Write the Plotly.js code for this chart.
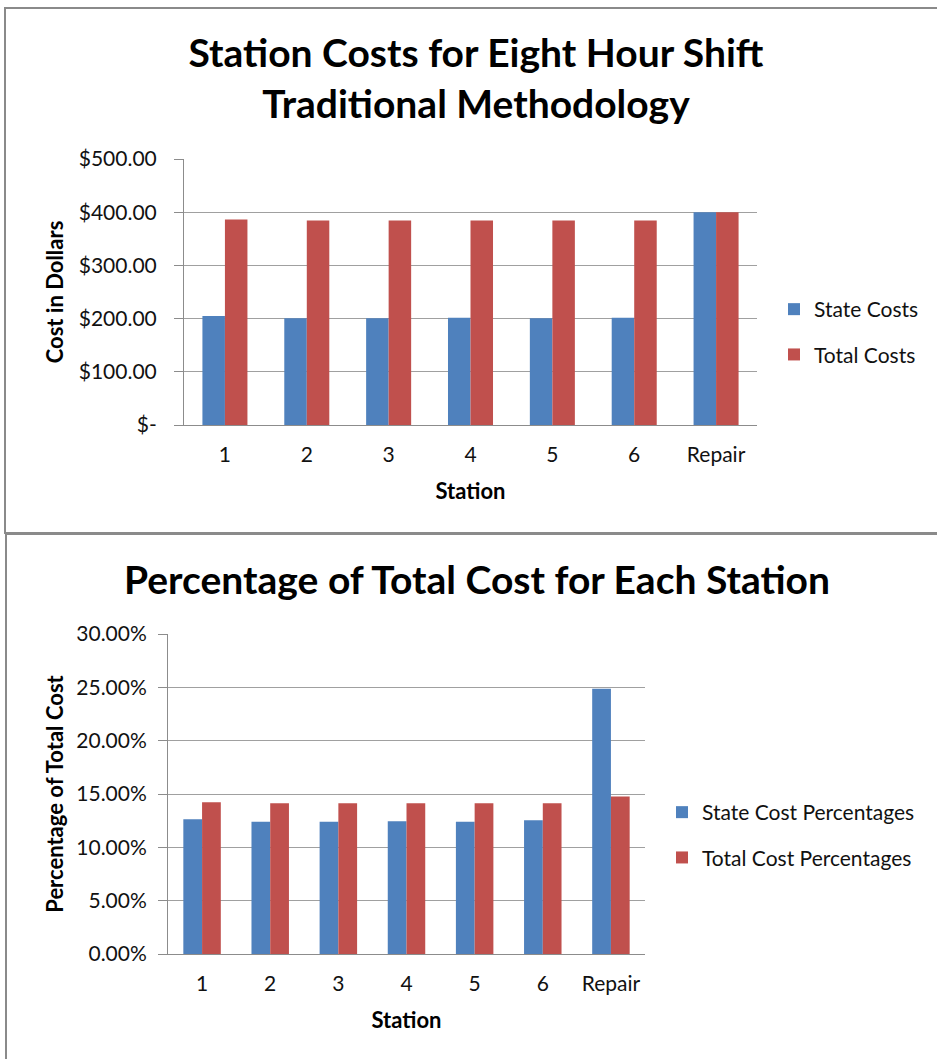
<!DOCTYPE html>
<html>
<head>
<meta charset="utf-8">
<script src="https://cdn.plot.ly/plotly-3.0.1.min.js"></script>
<style>
  html, body { margin: 0; padding: 0; background: #fff; width: 937px; height: 1059px; overflow: hidden; }
  .fig { position: absolute; left: 0; }
  .frame { position: absolute; border: 2px solid #8a8a8a; pointer-events: none; box-sizing: border-box; }
</style>
</head>
<body>
<div id="costs" class="fig" style="top:0;"></div>
<div id="shares" class="fig" style="top:534px;"></div>
<div class="frame" style="left:4px; top:7px; width:1000px; height:527px;"></div>
<div class="frame" style="left:5px; top:533px; width:1000px; height:600px;"></div>
<script>
// Station labels shared by both charts
const stations = ['1', '2', '3', '4', '5', '6', 'Repair'];

// Eight-hour shift costs in dollars
const stateCosts = [205, 200.5, 200.5, 201.5, 200.5, 201.5, 400];
const totalCosts = [386.5, 384.5, 384.5, 384.5, 384.5, 384.5, 400];

// Share of the overall cost carried by each station
const stateCostPct = [0.1263, 0.1241, 0.1241, 0.1245, 0.1241, 0.1254, 0.2486];
const totalCostPct = [0.1423, 0.1414, 0.1414, 0.1414, 0.1414, 0.1414, 0.1476];

// Dollar axis ticks
const dollarTickVals = [0, 100, 200, 300, 400, 500];
const dollarTickText = ['$-', '$100.00', '$200.00', '$300.00', '$400.00', '$500.00'];

const BLUE = '#4F81BD';
const RED = '#C0504D';
const FONT = 'Lato, "Open Sans", sans-serif';
const AXIS = '#8c8c8c';
const GRID = '#a0a0a0';

function xAxis() {
  return {
    type: 'category',
    showline: true, linecolor: AXIS, linewidth: 1,
    ticks: '', showgrid: false, zeroline: false,
    ticklabelstandoff: 11,
    tickfont: { size: 21, color: '#111' },
    title: { text: '<b>Station</b>', font: { size: 22, color: '#000' }, standoff: 18 }
  };
}

// Top chart: station costs
const costTraces = [
  { type: 'bar', name: 'State Costs', x: stations, y: stateCosts,
    marker: { color: BLUE }, legendgroup: 'a', hoverinfo: 'x+y' },
  { type: 'bar', name: 'Total Costs', x: stations, y: totalCosts,
    marker: { color: RED }, legendgroup: 'b', hoverinfo: 'x+y' }
];

const costLayout = {
  width: 937, height: 534,
  margin: { l: 184, r: 180, t: 159, b: 109 },
  paper_bgcolor: 'rgba(0,0,0,0)', plot_bgcolor: 'rgba(0,0,0,0)',
  font: { family: FONT, size: 21, color: '#000' },
  barmode: 'group', bargap: 0.45, bargroupgap: 0,
  title: {
    text: '<b>Station Costs for Eight Hour Shift<br>Traditional Methodology</b>',
    font: { size: 39, color: '#000' },
    x: 476 / 937, xref: 'container', xanchor: 'center',
    y: 1 - 67 / 534, yref: 'container', yanchor: 'middle'
  },
  xaxis: xAxis(),
  yaxis: {
    range: [0, 500], tickvals: dollarTickVals, ticktext: dollarTickText,
    showgrid: true, gridcolor: GRID, gridwidth: 1,
    showline: true, linecolor: AXIS, linewidth: 1, zeroline: false,
    ticks: 'outside', ticklen: 9, tickcolor: AXIS,
    ticklabelstandoff: 13,
    tickfont: { size: 21, color: '#111' },
    title: { text: '<b>Cost in Dollars</b>', font: { size: 22, color: '#000' }, standoff: 9 }
  },
  legend: {
    x: 774 / 937, xref: 'container', xanchor: 'left',
    y: 1 - 289 / 534, yref: 'container', yanchor: 'top',
    traceorder: 'grouped', tracegroupgap: 15,
    font: { size: 21, color: '#111' }, bgcolor: 'rgba(0,0,0,0)'
  },
  showlegend: true
};

// Bottom chart: percentage of total cost
const shareTraces = [
  { type: 'bar', name: 'State Cost Percentages', x: stations, y: stateCostPct,
    marker: { color: BLUE }, legendgroup: 'a', hoverinfo: 'x+y' },
  { type: 'bar', name: 'Total Cost Percentages', x: stations, y: totalCostPct,
    marker: { color: RED }, legendgroup: 'b', hoverinfo: 'x+y' }
];

const shareLayout = {
  width: 937, height: 525,
  margin: { l: 168, r: 292, t: 100, b: 105 },
  paper_bgcolor: 'rgba(0,0,0,0)', plot_bgcolor: 'rgba(0,0,0,0)',
  font: { family: FONT, size: 21, color: '#000' },
  barmode: 'group', bargap: 0.45, bargroupgap: 0,
  title: {
    text: '<b>Percentage of Total Cost for Each Station</b>',
    font: { size: 39, color: '#000' },
    x: 477 / 937, xref: 'container', xanchor: 'center',
    y: 1 - 46 / 525, yref: 'container', yanchor: 'middle'
  },
  xaxis: xAxis(),
  yaxis: {
    range: [0, 0.30], dtick: 0.05, tickformat: '.2%',
    showgrid: true, gridcolor: GRID, gridwidth: 1,
    showline: true, linecolor: AXIS, linewidth: 1, zeroline: false,
    ticks: 'outside', ticklen: 9, tickcolor: AXIS,
    ticklabelstandoff: 7,
    tickfont: { size: 21, color: '#111' },
    title: { text: '<b>Percentage of Total Cost</b>', font: { size: 22, color: '#000' }, standoff: 6 }
  },
  legend: {
    x: 662 / 937, xref: 'container', xanchor: 'left',
    y: 1 - 258 / 525, yref: 'container', yanchor: 'top',
    traceorder: 'grouped', tracegroupgap: 15,
    font: { size: 21, color: '#111' }, bgcolor: 'rgba(0,0,0,0)'
  },
  showlegend: true
};

const config = { staticPlot: true, displayModeBar: false };
Plotly.newPlot('costs', costTraces, costLayout, config);
Plotly.newPlot('shares', shareTraces, shareLayout, config);
</script>
</body>
</html>
